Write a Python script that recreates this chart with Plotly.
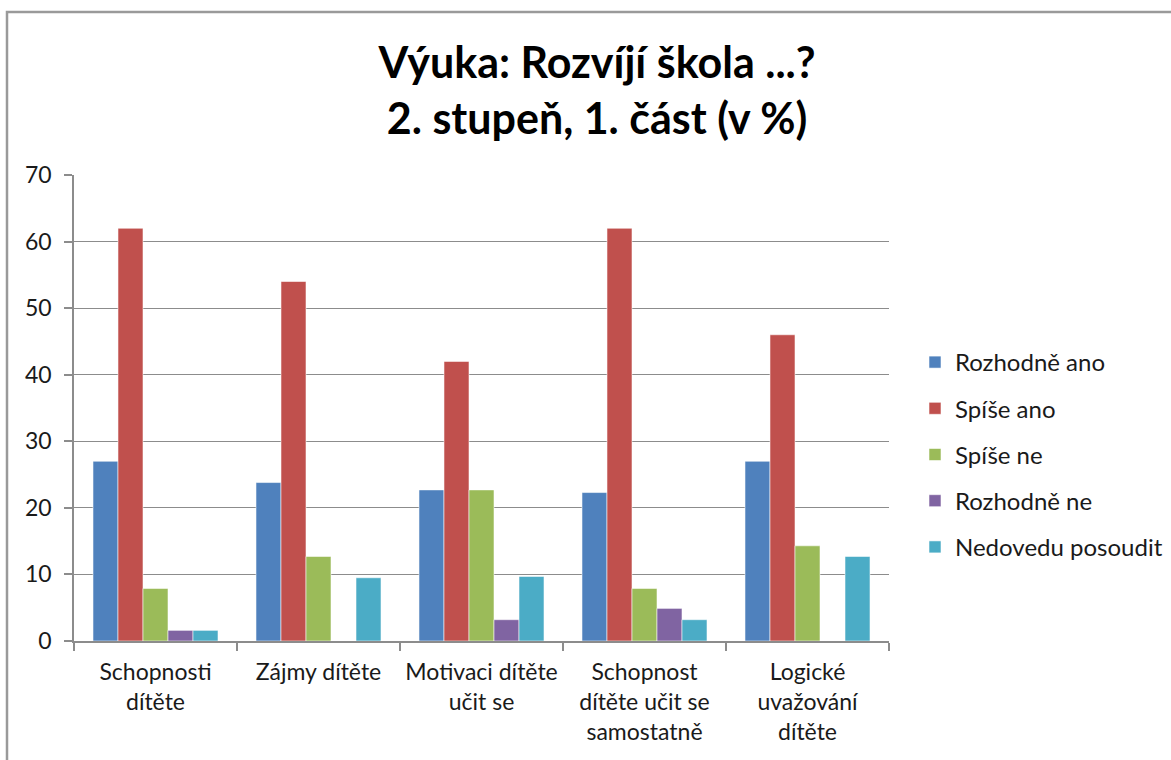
import plotly.graph_objects as go

categories = [
    "Schopnosti<br>dítěte",
    "Zájmy dítěte",
    "Motivaci dítěte<br>učit se",
    "Schopnost<br>dítěte učit se<br>samostatně",
    "Logické<br>uvažování<br>dítěte",
]
series_names = ["Rozhodně ano", "Spíše ano", "Spíše ne", "Rozhodně ne", "Nedovedu posoudit"]
rozhodne_ano = [27.0, 23.8, 22.7, 22.3, 27.0]
spise_ano = [62.0, 54.0, 42.0, 62.0, 46.0]
spise_ne = [7.9, 12.7, 22.7, 7.9, 14.3]
rozhodne_ne = [1.6, 0, 3.2, 4.9, 0]
nedovedu = [1.6, 9.5, 9.7, 3.2, 12.7]
series_values = [rozhodne_ano, spise_ano, spise_ne, rozhodne_ne, nedovedu]
colors = ["#4F81BD", "#C0504D", "#9BBB59", "#8064A2", "#4BACC6"]
y_ticks = [0, 10, 20, 30, 40, 50, 60, 70]

W, H = 1171, 760
ML, MR, MT, MB = 74, 1171 - 889, 175, 760 - 641
FONT = "Lato, Carlito, Calibri, sans-serif"

fig = go.Figure()
for i, (name, vals) in enumerate(zip(series_names, series_values)):
    fig.add_trace(go.Bar(
        x=categories, y=vals, name=name,
        marker=dict(color=colors[i], line=dict(color="rgba(255,255,255,0.55)", width=1)),
        legendgroup=f"g{i}",
    ))

pw = W - ML - MR
ph = H - MT - MB
def px_to_paper_x(px):
    return (px - ML) / pw
def px_to_paper_y(py):
    return (H - MB - py) / ph

fig.add_shape(type="path", xref="paper", yref="paper",
              path=f"M {px_to_paper_x(7)},{px_to_paper_y(800)} L {px_to_paper_x(7)},{px_to_paper_y(12)} L {px_to_paper_x(1200)},{px_to_paper_y(12)}",
              line=dict(color="#9a9a9a", width=2.5))

fig.update_layout(
    width=W, height=H,
    margin=dict(l=ML, r=MR, t=MT, b=MB),
    paper_bgcolor="white", plot_bgcolor="white",
    font=dict(family=FONT, size=23, color="#1a1a1a"),
    barmode="group", bargap=0.233, bargroupgap=0,
    title=dict(
        text="<b>Výuka: Rozvíjí škola ...?<br>2. stupeň, 1. část (v %)</b>",
        font=dict(family=FONT, size=43, color="black"),
        x=597 / W, xanchor="center", xref="container",
        y=1 - 78 / H, yanchor="top", yref="container",
    ),
    legend=dict(
        x=915 / W, xanchor="left", xref="container",
        y=1 - 340 / H, yanchor="top", yref="container",
        font=dict(family=FONT, size=24, color="#1a1a1a"),
        tracegroupgap=12, bgcolor="rgba(0,0,0,0)",
    ),
    xaxis=dict(
        showline=True, linecolor="#8c8c8c", linewidth=1.5,
        ticks="outside", ticklen=8, tickcolor="#8c8c8c", tickwidth=1.5,
        tickson="boundaries", showgrid=False, ticklabelstandoff=10,
        tickfont=dict(family=FONT, size=23, color="#1a1a1a"),
    ),
    yaxis=dict(
        range=[0, 70], tickvals=y_ticks,
        showline=True, linecolor="#8c8c8c", linewidth=1.5,
        ticks="outside", ticklen=8, tickcolor="#8c8c8c", tickwidth=1.5,
        showgrid=True, gridcolor="#8c8c8c", gridwidth=1.2,
        zeroline=False, ticklabelstandoff=8,
        tickfont=dict(family=FONT, size=23, color="#1a1a1a"),
    ),
)

fig.write_html("out.html", config={"displayModeBar": False},
               post_script="document.body.style.margin='0';")
